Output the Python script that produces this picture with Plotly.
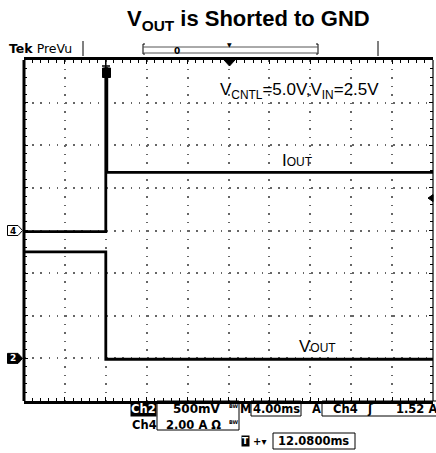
import plotly.graph_objects as go

# ---------------- data ----------------
# Ch4 : output current IOUT (2 A/div), ground at screen centre
t_iout_ms = [0.0, 8.0, 8.0, 8.1, 8.1, 40.0]
iout_A = [-0.05, -0.05, 7.6, 7.6, 2.73, 2.73]
# Ch2 : output voltage VOUT (500 mV/div), ground 3 div below centre
t_vout_ms = [0.0, 8.0, 8.0, 40.0]
vout_V = [1.25, 1.25, -0.01, -0.01]

trigger_ms = 8.0
trigger_level_A = 1.52
ms_per_div = 4.0
A_per_div = 2.0
V_per_div = 0.5
ch2_ground_div = -3

title_text = "V<sub>OUT</sub> is Shorted to GND"
cond_text = "V<sub>CNTL</sub>=5.0V,V<sub>IN</sub>=2.5V"

# ---------------- layout geometry ----------------
W_IMG, H_IMG = 436, 453
L, R, T, B = 24, 433, 60, 401
PW, PH = R - L, B - T


def X(px):
    return (px - L) / PW


def Y(py):
    return (B - py) / PH


fig = go.Figure()
fig.add_trace(go.Scatter(x=t_iout_ms, y=iout_A, mode="lines",
                         line=dict(color="black", width=2.8), yaxis="y",
                         hoverinfo="skip", showlegend=False))
fig.add_trace(go.Scatter(x=t_vout_ms, y=vout_V, mode="lines",
                         line=dict(color="black", width=2.8), yaxis="y2",
                         hoverinfo="skip", showlegend=False))

FONT = "Liberation Sans, Arial, sans-serif"
TEK = "DejaVu Sans, sans-serif"

xr = [0, 10 * ms_per_div]
yr = [-4 * A_per_div, 4 * A_per_div]
y2r = [(ch2_ground_div - (-4)) * -V_per_div, (4 - ch2_ground_div) * V_per_div]

fig.update_layout(
    width=W_IMG, height=H_IMG,
    margin=dict(l=L, r=W_IMG - R, t=T, b=H_IMG - B, pad=0),
    paper_bgcolor="white", plot_bgcolor="white",
    xaxis=dict(range=xr, dtick=ms_per_div, showticklabels=False,
               showgrid=True, gridcolor="#666666", gridwidth=1.6,
               griddash="1.6px,6.9px", zeroline=False,
               showline=True, linecolor="black", linewidth=3, mirror="ticks",
               ticks="inside", ticklen=4, tickcolor="black", tickwidth=1,
               minor=dict(dtick=ms_per_div / 5, ticks="inside", ticklen=3,
                          tickcolor="black", tickwidth=1, showgrid=False),
               fixedrange=True),
    yaxis=dict(range=yr, dtick=A_per_div, showticklabels=False,
               showgrid=True, gridcolor="#666666", gridwidth=1.6,
               griddash="1.6px,6.6px", zeroline=False,
               showline=False, mirror="ticks",
               ticks="inside", ticklen=4, tickcolor="black", tickwidth=1,
               minor=dict(dtick=A_per_div / 5, ticks="inside", ticklen=3,
                          tickcolor="black", tickwidth=1, showgrid=False),
               fixedrange=True),
    yaxis2=dict(range=y2r, overlaying="y", visible=False, fixedrange=True),
)

shapes = []
ann = []

# frame left / right edges
shapes.append(dict(type="line", xref="paper", yref="paper", x0=0, x1=0, y0=0, y1=1,
                   line=dict(color="black", width=3)))
shapes.append(dict(type="line", xref="paper", yref="paper", x0=1, x1=1, y0=0, y1=1,
                   line=dict(color="black", width=1.2)))

# ---- top status bar ----
ann.append(dict(text="<b>Tek</b> PreVu", xref="paper", yref="paper", x=X(7), y=Y(48),
                xanchor="left", yanchor="middle", showarrow=False,
                font=dict(family=TEK, size=12.5, color="black")))
for px in (83, 378):
    shapes.append(dict(type="line", xref="paper", yref="paper", x0=X(px), x1=X(px),
                       y0=Y(41), y1=Y(56), line=dict(color="black", width=1)))
# record bracket
shapes.append(dict(type="path", xref="paper", yref="paper",
                   path=f"M{X(145)},{Y(44)} L{X(143)},{Y(44)} L{X(143)},{Y(54)} L{X(145)},{Y(54)}",
                   line=dict(color="black", width=1)))
shapes.append(dict(type="path", xref="paper", yref="paper",
                   path=f"M{X(316)},{Y(44)} L{X(318)},{Y(44)} L{X(318)},{Y(54)} L{X(316)},{Y(54)}",
                   line=dict(color="black", width=1)))
shapes.append(dict(type="line", xref="paper", yref="paper", x0=X(143), x1=X(318),
                   y0=Y(47), y1=Y(47), line=dict(color="#555", width=1)))
shapes.append(dict(type="line", xref="paper", yref="paper", x0=X(143), x1=X(318),
                   y0=Y(53), y1=Y(53), line=dict(color="#555", width=1)))
ann.append(dict(text="<b>0</b>", xref="paper", yref="paper", x=X(177), y=Y(51),
                xanchor="center", yanchor="middle", showarrow=False,
                font=dict(family=TEK, size=9, color="black")))
ann.append(dict(text="▼", xref="paper", yref="paper", x=X(229), y=Y(44),
                xanchor="center", yanchor="middle", showarrow=False,
                font=dict(family=TEK, size=6, color="black")))
# horizontal position marker under top edge
shapes.append(dict(type="path", xref="paper", yref="paper",
                   path=f"M{X(224)},{Y(60)} L{X(235)},{Y(60)} L{X(229.5)},{Y(66)} Z",
                   fillcolor="black", line=dict(color="black", width=1)))

# trigger time marker (T) and clipped spike block
shapes.append(dict(type="line", xref="x", yref="paper", x0=trigger_ms, x1=trigger_ms,
                   y0=Y(60), y1=Y(68), line=dict(color="black", width=1.5)))
shapes.append(dict(type="line", xref="paper", yref="paper", x0=X(102), x1=X(110),
                   y0=Y(66), y1=Y(66), line=dict(color="black", width=1.5)))
shapes.append(dict(type="rect", xref="paper", yref="paper", x0=X(102.5), x1=X(110.5),
                   y0=Y(68), y1=Y(77.5), fillcolor="black", line=dict(color="black", width=1)))

# Ch4 marker (outlined pentagon) at ground level 0 A
ch4_y0 = 0.0
dy4 = 5.0 / PH * (yr[1] - yr[0])
shapes.append(dict(type="path", xref="paper", yref="y",
                   path=(f"M{X(7.5)},{ch4_y0 + dy4} L{X(18)},{ch4_y0 + dy4} "
                         f"L{X(22.5)},{ch4_y0} L{X(18)},{ch4_y0 - dy4} "
                         f"L{X(7.5)},{ch4_y0 - dy4} Z"),
                   fillcolor="white", line=dict(color="black", width=1)))
ann.append(dict(text="<b>4</b>", xref="paper", yref="y", x=X(13), y=ch4_y0,
                xanchor="center", yanchor="middle", showarrow=False,
                font=dict(family=TEK, size=9, color="black")))
# Ch2 marker (filled pentagon) at its ground level 0 V
ch2_y0 = 0.0
dy2 = 5.0 / PH * (y2r[1] - y2r[0])
shapes.append(dict(type="path", xref="paper", yref="y2",
                   path=(f"M{X(7.5)},{ch2_y0 + dy2} L{X(18)},{ch2_y0 + dy2} "
                         f"L{X(22.5)},{ch2_y0} L{X(18)},{ch2_y0 - dy2} "
                         f"L{X(7.5)},{ch2_y0 - dy2} Z"),
                   fillcolor="black", line=dict(color="black", width=1)))
ann.append(dict(text="<b>2</b>", xref="paper", yref="y2", x=X(13), y=ch2_y0,
                xanchor="center", yanchor="middle", showarrow=False,
                font=dict(family=TEK, size=9, color="white")))
# trigger level marker on the right edge
dyt = 3.5 / PH * (yr[1] - yr[0])
shapes.append(dict(type="path", xref="paper", yref="y",
                   path=(f"M{X(433)},{trigger_level_A + dyt} L{X(428)},{trigger_level_A} "
                         f"L{X(433)},{trigger_level_A - dyt} Z"),
                   fillcolor="black", line=dict(color="black", width=1)))

# ---- texts inside the screen ----
ann.append(dict(text=title_text, xref="paper", yref="paper", x=X(248), y=Y(20),
                xanchor="center", yanchor="middle", showarrow=False,
                font=dict(family=FONT, size=22, color="black", weight="bold")))
ann.append(dict(text=cond_text, xref="paper", yref="paper", x=X(299), y=Y(91),
                xanchor="center", yanchor="middle", showarrow=False,
                font=dict(family=FONT, size=17, color="black")))
ann.append(dict(text='I<span style="font-size:12px">OUT</span>', xref="paper", yref="paper",
                x=X(297), y=Y(160), xanchor="center", yanchor="middle", showarrow=False,
                font=dict(family=FONT, size=17, color="black")))
ann.append(dict(text='V<span style="font-size:12px">OUT</span>', xref="paper", yref="paper",
                x=X(317), y=Y(346), xanchor="center", yanchor="middle", showarrow=False,
                font=dict(family=FONT, size=17, color="black")))


# ---- bottom readouts ----
def txt(s, px, py, color="black", size=11.5, bg=None, anchor="center"):
    d = dict(text=s, xref="paper", yref="paper", x=X(px), y=Y(py),
             xanchor=anchor, yanchor="middle", showarrow=False,
             font=dict(family=TEK, size=size, color=color, weight="bold"))
    if bg:
        d["bgcolor"] = bg
        d["borderpad"] = 0
    ann.append(d)


def box(x0, x1, y0, y1):
    shapes.append(dict(type="rect", xref="paper", yref="paper", x0=X(x0), x1=X(x1),
                       y0=Y(y0), y1=Y(y1), line=dict(color="black", width=1)))


box(157, 239, 401, 430)
box(251, 301, 401, 416)
box(322, 437, 401, 416)
box(273, 355, 433, 449)

txt("Ch2", 143.5, 408.5, color="white", bg="black")
txt("500mV", 197, 408.5, size=12)
txt("BW", 234, 406, size=5)
txt("M", 245, 408.5)
txt("4.00ms", 276, 408.5)
txt("A", 316, 408.5)
txt("Ch4", 345, 408.5)
txt("ʃ", 370, 408.5)
txt("1.52 A", 416, 408.5)
txt("Ch4", 144.5, 424.5)
txt("2.00 A Ω", 193, 424.5)
txt("BW", 234, 422, size=5)
txt("T", 245, 441.5, color="white", bg="black", size=9)
txt("+▾", 259, 441.5, size=10)
txt("12.0800ms", 313, 441.5)

fig.update_layout(shapes=shapes, annotations=ann)
fig.write_html("out.html", config={"displayModeBar": False},
               post_script="document.body.style.margin='0';document.body.style.overflow='hidden';")
